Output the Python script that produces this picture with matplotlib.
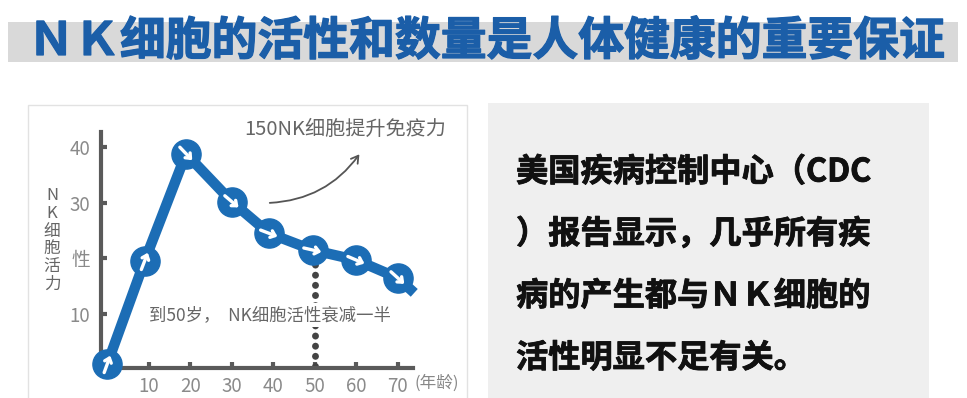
import numpy as np
import matplotlib; matplotlib.use("Agg")
import matplotlib.pyplot as plt
import matplotlib.patheffects as pe
from matplotlib.patches import Rectangle

plt.rcParams["font.family"] = ["Noto Sans CJK SC", "DejaVu Sans"]

# --- data ---
ages = [0, 9, 19, 30, 39, 49.5, 60, 70]
activity = [1.0, 19.5, 38.8, 30.2, 24.5, 21.5, 19.7, 16.5]
line_end = (74, 13.8)          # tail of the line after the last circle
half_age = 50                   # dotted marker
xticks = [10, 20, 30, 40, 50, 60, 70]
yticks = [10, 20, 30, 40]
ytick_labels = ["10", "性", "30", "40"]

title = "ＮＫ细胞的活性和数量是人体健康的重要保证"
side_lines = ["美国疾病控制中心（CDC",
              "）报告显示，几乎所有疾",
              "病的产生都与ＮＫ细胞的",
              "活性明显不足有关。"]

BLUE = "#1c6db5"
GRAY = "#5a5a5a"
W, H = 967, 398

fig = plt.figure(figsize=(W / 100, H / 100), dpi=100)
fig.patch.set_facecolor("white")

def fx(px): return px / W
def fy(py): return 1 - py / H

# title band
fig.patches.append(Rectangle((fx(8), fy(62)), fx(958) - fx(8), fy(22) - fy(62),
                             transform=fig.transFigure, facecolor="#d9d9d9", edgecolor="none", zorder=-2))
fig.text(fx(487), fy(42), title, ha="center", va="center", fontsize=33,
         fontweight="bold", color="#1b5ea8",
         path_effects=[pe.withStroke(linewidth=0.9, foreground="#1b5ea8")])

# panels
fig.patches.append(Rectangle((fx(28), fy(400)), fx(467) - fx(28), fy(105) - fy(400),
                             transform=fig.transFigure, facecolor="white", edgecolor="#e2e2e2",
                             linewidth=1, zorder=-2))
fig.patches.append(Rectangle((fx(488), fy(400)), fx(929) - fx(488), fy(103) - fy(400),
                             transform=fig.transFigure, facecolor="#efefef", edgecolor="none", zorder=-2))

for i, line in enumerate(side_lines):
    fig.text(fx(516), fy(172 + i * 62), line, ha="left", va="center", fontsize=23.2,
             fontweight="bold", color="#111111",
             path_effects=[pe.withStroke(linewidth=0.6, foreground="#111111")])

# --- chart ---
ax = fig.add_axes([fx(101), fy(368), fx(413) - fx(101), fy(132) - fy(368)])
ax.set_zorder(2)
ax.set_facecolor("none")
ax.set_xlim(-1.5, 73.7)
ax.set_ylim(0.3, 42.7)
for s in ["top", "right"]:
    ax.spines[s].set_visible(False)
for s in ["left", "bottom"]:
    ax.spines[s].set_color(GRAY)
    ax.spines[s].set_linewidth(3)
ax.set_xticks(xticks)
ax.set_yticks(yticks)
ax.set_yticklabels(ytick_labels)
ax.tick_params(direction="in", length=4, width=3, color=GRAY, labelcolor="#8a8a8a",
               labelsize=13.5)
ax.tick_params(axis="y", pad=8)
ax.tick_params(axis="x", pad=6)

xs = ages + [line_end[0]]
ys = activity + [line_end[1]]
ax.plot(xs, ys, color=BLUE, linewidth=7.5, solid_capstyle="butt", clip_on=False, zorder=3)
ax.plot(ages, activity, "o", color=BLUE, markersize=21, clip_on=False, zorder=4)

# dotted line at 50 years
ax.plot([half_age, half_age], [0.6, activity[5] - 2.2], color="#444444", linewidth=5,
        linestyle=(0, (0.01, 1.45)), dash_capstyle="round", zorder=2)

# white arrows inside circles
fig.canvas.draw()
pts = ax.transData.transform(np.column_stack([xs, ys]))
for i in range(len(ages)):
    d = pts[i + 1] - pts[i]
    u = d / np.hypot(*d)
    a = pts[i] - u * 9
    b = pts[i] + u * 9
    ax.annotate("", xy=b, xytext=a, xycoords="figure pixels", textcoords="figure pixels",
                arrowprops=dict(arrowstyle="->,head_length=0.3,head_width=0.25", color="white",
                                lw=2.4, shrinkA=0, shrinkB=0), zorder=5, annotation_clip=False)

ax.text(39.3, 9.8, "到50岁，  NK细胞活性衰减一半", ha="center", va="center",
        fontsize=12.5, color="#666666", bbox=dict(facecolor="white", edgecolor="none", pad=2),
        zorder=3)

ax.annotate("", xy=(fx(361), fy(152)), xytext=(fx(267), fy(203)),
            xycoords="figure fraction", textcoords="figure fraction",
            arrowprops=dict(arrowstyle="->,head_length=0.5,head_width=0.3", color="#555555",
                            lw=1.3, connectionstyle="arc3,rad=0.25"))
fig.text(fx(345), fy(129), "150NK细胞提升免疫力", ha="center", va="center", fontsize=14.5,
         color="#666666")

fig.text(fx(52), fy(240), "\n".join("NK细胞活力"), ha="center", va="center", fontsize=12,
         color="#666666", linespacing=1.05)
fig.text(fx(437), fy(383), "(年龄)", ha="center", va="center", fontsize=12, color="#888888")

fig.savefig("out.png", dpi=100, facecolor="white")
